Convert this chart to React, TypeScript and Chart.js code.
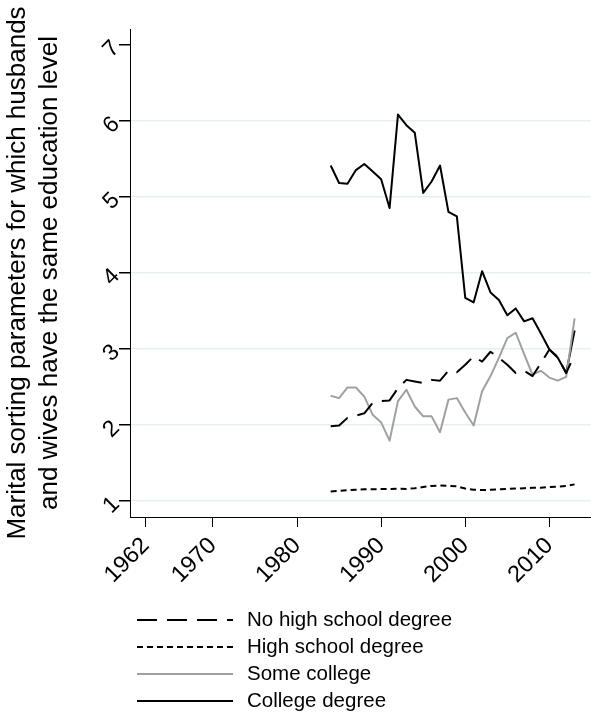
import React, { useEffect, useRef } from 'react';
import { Chart, registerables } from 'chart.js';

Chart.register(...registerables);

const years = [1984, 1985, 1986, 1987, 1988, 1989, 1990, 1991, 1992, 1993, 1994, 1995, 1996, 1997, 1998, 1999, 2000, 2001, 2002, 2003, 2004, 2005, 2006, 2007, 2008, 2009, 2010, 2011, 2012, 2013];
const noHighSchool = [1.98, 1.99, 2.09, 2.12, 2.15, 2.29, 2.31, 2.32, 2.48, 2.59, 2.57, 2.55, 2.59, 2.58, 2.71, 2.69, 2.79, 2.9, 2.83, 2.96, 2.88, 2.79, 2.68, 2.71, 2.64, 2.81, 2.99, 2.89, 2.68, 2.92];
const highSchool = [1.12, 1.13, 1.14, 1.145, 1.15, 1.15, 1.155, 1.155, 1.16, 1.155, 1.165, 1.18, 1.195, 1.2, 1.195, 1.19, 1.16, 1.145, 1.14, 1.145, 1.15, 1.155, 1.16, 1.165, 1.17, 1.17, 1.18, 1.185, 1.195, 1.215];
const someCollege = [2.38, 2.35, 2.49, 2.49, 2.37, 2.13, 2.03, 1.79, 2.31, 2.46, 2.24, 2.11, 2.11, 1.9, 2.33, 2.35, 2.16, 1.99, 2.44, 2.64, 2.88, 3.14, 3.21, 2.93, 2.66, 2.71, 2.62, 2.58, 2.63, 3.4];
const college = [5.41, 5.18, 5.17, 5.35, 5.43, 5.33, 5.23, 4.85, 6.08, 5.94, 5.84, 5.05, 5.2, 5.41, 4.8, 4.74, 3.67, 3.61, 4.02, 3.74, 3.64, 3.44, 3.53, 3.36, 3.4, 3.2, 2.99, 2.88, 2.68, 3.24];

const xTicks = [1962, 1970, 1980, 1990, 2000, 2010];
const yTicks = [1, 2, 3, 4, 5, 6, 7];
const seriesLabels = ['No high school degree', 'High school degree', 'Some college', 'College degree'];
const yTitle = ['Marital sorting parameters for which husbands', 'and wives have the same education level'];

const FONT = '"Liberation Sans", Arial, Helvetica, sans-serif';

export default function App() {
  const ref = useRef<HTMLCanvasElement>(null);

  useEffect(() => {
    document.body.style.margin = '0';
    const canvas = ref.current;
    if (!canvas) return;
    const toPts = (vals: number[]) => years.map((x, i) => ({ x, y: vals[i] }));

    const legendPlugin = {
      id: 'stataLegend',
      afterDraw(chart: any) {
        const ctx = chart.ctx;
        ctx.save();
        chart.data.datasets.forEach((ds: any, i: number) => {
          const y = 620 + i * 27;
          ctx.beginPath();
          ctx.strokeStyle = ds.borderColor;
          ctx.lineWidth = ds.borderWidth;
          ctx.setLineDash(ds.borderDash || []);
          ctx.moveTo(137, y);
          ctx.lineTo(233, y);
          ctx.stroke();
          ctx.setLineDash([]);
          ctx.fillStyle = '#000';
          ctx.font = `20.5px ${FONT}`;
          ctx.textAlign = 'left';
          ctx.textBaseline = 'middle';
          ctx.fillText(ds.label, 247, y);
        });
        ctx.restore();
      },
    };

    const chart = new Chart(canvas, {
      type: 'line',
      data: {
        datasets: [
          { label: seriesLabels[0], data: toPts(noHighSchool), borderColor: '#000', borderWidth: 2, borderDash: [20, 10] },
          { label: seriesLabels[1], data: toPts(highSchool), borderColor: '#000', borderWidth: 2, borderDash: [6, 4] },
          { label: seriesLabels[2], data: toPts(someCollege), borderColor: '#a0a0a0', borderWidth: 2 },
          { label: seriesLabels[3], data: toPts(college), borderColor: '#000', borderWidth: 2 },
        ],
      },
      options: {
        responsive: false,
        animation: false,
        events: [],
        elements: { point: { radius: 0 }, line: { tension: 0, borderCapStyle: 'butt', borderJoinStyle: 'round' } },
        layout: { padding: { top: 29, right: 0, left: 0, bottom: 0 } },
        plugins: { legend: { display: false }, tooltip: { enabled: false } },
        scales: {
          x: {
            type: 'linear',
            min: 1960.14,
            max: 2014.95,
            afterBuildTicks: (scale: any) => {
              scale.ticks = xTicks.map((v) => ({ value: v }));
            },
            afterFit: (scale: any) => {
              scale.height = 200;
            },
            border: { display: true, color: '#000', width: 1 },
            grid: { display: true, drawOnChartArea: false, drawTicks: true, tickLength: 10, tickColor: '#000', tickWidth: 1 },
            ticks: {
              autoSkip: false,
              minRotation: 45,
              maxRotation: 45,
              padding: 5,
              color: '#000',
              font: { family: FONT, size: 23.5 },
              callback: (v: any) => String(v),
            },
          },
          y: {
            type: 'linear',
            min: 0.786,
            max: 7.206,
            afterBuildTicks: (scale: any) => {
              scale.ticks = yTicks.map((v) => ({ value: v }));
            },
            afterFit: (scale: any) => {
              scale.width = 130;
            },
            border: { display: true, color: '#000', width: 1 },
            grid: {
              display: true,
              drawOnChartArea: true,
              drawTicks: true,
              tickLength: 11,
              tickColor: '#000',
              lineWidth: 1.5,
              color: (c: any) => (c.tick && c.tick.value === 7 ? 'rgba(0,0,0,0)' : '#e8eff2'),
            },
            ticks: {
              minRotation: 45,
              maxRotation: 45,
              padding: 3,
              color: '#000',
              font: { family: FONT, size: 23 },
              callback: (v: any) => String(v),
            },
            title: {
              display: true,
              text: yTitle,
              color: '#000',
              font: { family: FONT, size: 26, lineHeight: 1.22 },
              padding: { top: 2, bottom: 0 },
            },
          },
        },
      },
      plugins: [legendPlugin],
    });

    return () => chart.destroy();
  }, []);

  return (
    <div style={{ position: 'absolute', left: 0, top: 0, width: 591, height: 717 }}>
      <canvas ref={ref} width={591} height={717} style={{ width: 591, height: 717, display: 'block' }} />
    </div>
  );
}
